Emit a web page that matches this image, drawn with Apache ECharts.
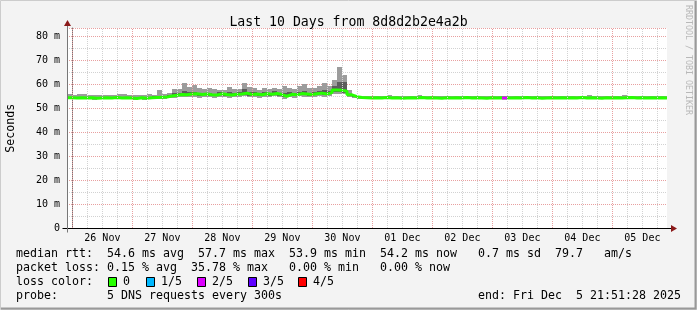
<!DOCTYPE html>
<html><head><meta charset="utf-8">
<script src="https://cdn.jsdelivr.net/npm/echarts@6/dist/echarts.min.js"></script>
<style>html,body{margin:0;padding:0;background:#f3f3f3}#c{width:697px;height:310px}</style>
</head><body><div id="c"></div>
<script>
// ---------- data ----------
const titleText = 'Last 10 Days from 8d8d2b2e4a2b';
const dayLabels = ['26 Nov','27 Nov','28 Nov','29 Nov','30 Nov','01 Dec','02 Dec','03 Dec','04 Dec','05 Dec'];
const yTicks = [0, 10, 20, 30, 40, 50, 60, 70, 80];      // ms
const yMax = 83.33;
const startHour = -2.1422;   // window start, hours relative to 26 Nov 00:00
const spanHours = 240;
const binHours = 2;
// median rtt (ms) per 2h bin
const med = [
54.3,54.2,54.3,54.2,54.3,54.1,54.2,54.3,54.2,54.4, 54.2,54.3,54.2,54.0,54.3,54.1,54.3,54.4,54.5,54.6,
55.0,55.3,55.6,55.5,55.8,55.9,55.6,55.8,55.5,55.4, 55.9,55.6,55.4,55.7,55.8,56.2,55.6,55.8,55.5,55.9,
55.7,56.0,55.6,54.9,55.7,55.5,56.0,55.8,55.6,55.9, 56.2,55.8,56.4,57.5,57.4,57.0,55.5,54.7,54.4,54.3,
54.2,54.3,54.2,54.4,54.2,54.3,54.1,54.2,54.3,54.2, 54.4,54.2,54.3,54.2,54.1,54.3,54.2,54.3,54.2,54.4,
54.2,54.3,54.2,54.1,54.3,54.2,54.3,54.2,54.2,54.3, 54.2,54.4,54.2,54.3,54.1,54.2,54.3,54.2,54.3,54.2,
54.3,54.2,54.4,54.2,54.3,54.2,54.1,54.3,54.2,54.3, 54.2,54.3,54.4,54.2,54.3,54.2,54.3,54.2,54.3,54.2];
// smoke: slowest ping (max)
const pingMax = [
56.0,55.6,55.9,55.8,55.5,55.4,55.6,55.5,55.3,55.6, 56.0,55.7,55.4,55.5,55.6,55.4,55.8,55.6,57.5,55.9,
56.2,57.8,58.0,60.3,58.9,59.6,58.2,58.0,58.3,57.9, 57.5,57.6,58.9,57.8,58.0,60.3,58.9,58.4,57.6,58.2,
57.9,58.5,57.8,59.2,58.5,58.0,59.0,59.9,58.2,58.4, 59.0,60.6,59.2,61.7,67.2,63.8,57.5,55.6,55.0,54.9,
55.0,54.9,55.1,54.9,55.4,55.0,54.8,54.9,55.0,55.1, 55.4,54.9,54.8,55.0,54.9,55.1,54.8,54.9,55.0,54.9,
54.8,55.0,54.9,55.0,54.9,55.1,54.9,55.2,54.9,54.8, 55.0,54.9,55.0,54.8,54.9,55.0,55.2,54.9,55.0,54.9,
54.8,55.0,54.9,55.0,55.3,54.9,55.0,54.8,54.9,55.0, 54.9,55.3,55.0,54.9,55.0,54.8,54.9,55.0,54.9,55.0];
// 4th ping
const ping4 = [
54.6,54.5,54.6,54.5,54.6,54.4,54.5,54.7,54.5,54.7, 54.6,54.6,54.5,54.4,54.6,54.4,54.6,54.8,55.2,55.0,
55.6,56.2,56.3,57.0,56.6,56.8,56.2,56.4,56.3,56.0, 56.5,56.2,56.8,56.3,56.7,57.8,56.5,56.6,56.1,56.7,
56.4,56.9,56.2,56.3,56.6,56.1,56.8,57.2,56.3,56.6, 57.0,57.4,57.2,59.0,61.0,60.8,56.0,55.0,54.7,54.6,
54.5,54.6,54.5,54.7,54.6,54.6,54.4,54.5,54.6,54.5, 54.7,54.5,54.6,54.5,54.4,54.6,54.5,54.6,54.5,54.7,
54.5,54.6,54.5,54.4,54.6,54.5,54.6,54.6,54.5,54.6, 54.5,54.7,54.5,54.6,54.4,54.5,54.6,54.5,54.6,54.5,
54.6,54.5,54.7,54.5,54.6,54.5,54.4,54.6,54.5,54.6, 54.5,54.6,54.7,54.5,54.6,54.5,54.6,54.5,54.6,54.5];
// 2nd ping
const ping2 = [
54.0,53.9,54.0,53.9,54.0,53.8,53.9,54.0,53.9,54.1, 53.9,54.0,53.9,53.7,54.0,53.8,54.0,54.1,54.2,54.3,
54.6,54.9,55.1,55.0,55.3,55.4,55.1,55.3,55.0,54.9, 55.4,55.1,54.9,55.2,55.3,55.6,55.1,55.3,55.0,55.4,
55.2,55.5,55.1,54.5,55.2,55.0,55.5,55.3,55.1,55.4, 55.7,55.3,55.9,56.8,56.8,56.4,55.1,54.4,54.1,54.0,
53.9,54.0,53.9,54.1,53.9,54.0,53.8,53.9,54.0,53.9, 54.1,53.9,54.0,53.9,53.8,54.0,53.9,54.0,53.9,54.1,
53.9,54.0,53.9,53.8,54.0,53.9,54.0,53.9,53.9,54.0, 53.9,54.1,53.9,54.0,53.8,53.9,54.0,53.9,54.0,53.9,
54.0,53.9,54.1,53.9,54.0,53.9,53.8,54.0,53.9,54.0, 53.9,54.0,54.1,53.9,54.0,53.9,54.0,53.9,54.0,53.9];
// fastest ping (min)
const pingMin = [
53.7,53.6,53.7,53.6,53.7,53.5,53.6,53.7,53.6,53.8, 53.6,53.7,53.6,53.4,53.7,53.5,53.7,53.8,53.8,53.9,
54.0,54.3,54.5,54.4,54.6,54.7,54.3,54.6,54.4,54.2, 54.6,54.4,54.2,54.5,54.6,54.8,54.4,54.6,54.2,54.7,
54.5,54.8,54.4,53.9,54.5,54.3,54.8,54.6,54.4,54.7, 55.0,54.6,55.2,56.0,56.0,55.7,54.6,54.0,53.8,53.7,
53.7,53.8,53.7,53.9,53.7,53.8,53.6,53.7,53.8,53.7, 53.9,53.7,53.8,53.7,53.6,53.8,53.7,53.8,53.7,53.9,
53.7,53.8,53.7,53.6,53.8,53.7,53.8,53.6,53.7,53.8, 53.7,53.9,53.7,53.8,53.6,53.7,53.8,53.7,53.8,53.7,
53.8,53.7,53.9,53.7,53.8,53.7,53.6,53.8,53.7,53.8, 53.7,53.8,53.9,53.7,53.8,53.7,53.8,53.7,53.8,53.7];
// packet loss events (bin index, lost pings out of 5)
const lossBins = [87];
const lossLevels = [2];
const lossNames = ['0', '1/5', '2/5', '3/5', '4/5'];
const lossColors = ['#26ff00', '#00b8ff', '#dd00ff', '#5e00ff', '#ff0000'];
const statLines = [
  'median rtt:  54.6 ms avg  57.7 ms max  53.9 ms min  54.2 ms now   0.7 ms sd  79.7   am/s',
  'packet loss: 0.15 % avg  35.78 % max   0.00 % min   0.00 % now',
  'loss color:',
  'probe:       5 DNS requests every 300s'
];
const endText = 'end: Fri Dec  5 21:51:28 2025';
const watermark = 'RRDTOOL / TOBI OETIKER';

// ---------- build ----------
const n = med.length;
const xs = [];
for (let i = 0; i <= n; i++) xs.push(startHour + i * binHours);
const MONO = 'DejaVu Sans Mono';

const minorGrid = [], majorGrid = [];
for (let h = 0; h < startHour + spanHours; h += 6) {
  if (h % 24 === 0) majorGrid.push({xAxis: h, lineStyle: {color: '#e8a0a0'}});
  else minorGrid.push({xAxis: h, lineStyle: {color: '#d2d2d2'}});
}
const noonValues = dayLabels.map((d, i) => 12 + 24 * i);

// bands: [x0, x1, low, high]
const outerBand = med.map((m, i) => [xs[i], xs[i + 1], pingMin[i], pingMax[i]]);
const innerBand = med.map((m, i) => [xs[i], xs[i + 1], ping2[i], ping4[i]]);
function bandRenderer(color) {
  return function (params, api) {
    const a = api.coord([api.value(0), api.value(3)]);
    const b = api.coord([api.value(1), api.value(2)]);
    const x0 = Math.round(a[0]), x1 = Math.round(b[0]);
    const y0 = Math.round(a[1]), y1 = Math.round(b[1]);
    return {type: 'rect', shape: {x: x0, y: y0, width: x1 - x0, height: Math.max(1, y1 - y0)},
            style: {fill: color}};
  };
}
const medPts = xs.map((x, i) => [x, med[Math.min(i, n - 1)]]);

const lossSeries = lossLevels.map((lvl, k) => ({
  type: 'line', step: 'end', symbol: 'none', silent: true, z: 4, animation: false,
  lineStyle: {width: 3, color: lossColors[lvl]},
  data: [[xs[lossBins[k]], med[lossBins[k]]], [xs[lossBins[k] + 1], med[lossBins[k]]]]
}));

const chart = echarts.init(document.getElementById('c'), null, {renderer: 'canvas'});
chart.setOption({
  animation: false,
  backgroundColor: '#f3f3f3',
  title: {
    text: titleText, left: 'center', top: 11,
    textStyle: {fontFamily: MONO, fontSize: 13.2, fontWeight: 'normal', color: '#000'}
  },
  grid: {left: 67, right: 30, top: 28, bottom: 82, show: true, backgroundColor: '#ffffff', borderWidth: 0,
         outerBoundsMode: 'none'},
  xAxis: {
    type: 'value', min: startHour, max: startHour + spanHours,
    axisLine: {show: true, onZero: false, lineStyle: {color: '#000', width: 1}},
    axisTick: {show: false},
    splitLine: {show: false},
    axisLabel: {
      customValues: noonValues, margin: 5,
      fontFamily: MONO, fontSize: 10, color: '#000',
      formatter: v => dayLabels[Math.round((v - 12) / 24)] || ''
    }
  },
  yAxis: {
    type: 'value', min: 0, max: yMax, interval: 10,
    axisLine: {show: true, lineStyle: {color: '#777', width: 1}},
    axisTick: {show: false},
    axisLabel: {
      margin: 7, fontFamily: MONO, fontSize: 10, color: '#000', showMaxLabel: false,
      formatter: v => (yTicks.indexOf(v) < 0 ? '' : (v === 0 ? '0' : v + ' m'))
    },
    splitLine: {show: true, lineStyle: {color: '#e8a0a0', type: [1, 1], width: 1}},
    minorTick: {show: false, splitNumber: 2},
    minorSplitLine: {show: true, lineStyle: {color: '#d2d2d2', type: [1, 1], width: 1}}
  },
  series: [
    {type: 'line', data: [[startHour, null]], symbol: 'none', silent: true, z: 1,
     markLine: {silent: true, symbol: 'none', label: {show: false}, animation: false,
       lineStyle: {type: [1, 1], width: 1}, data: minorGrid.concat(majorGrid)}},
    {type: 'custom', renderItem: bandRenderer('#9c9c9c'), data: outerBand, z: 2, silent: true, clip: true},
    {type: 'custom', renderItem: bandRenderer('#5c5c5c'), data: innerBand, z: 2, silent: true, clip: true},
    {type: 'line', step: 'end', symbol: 'none', silent: true, z: 3, animation: false,
     lineStyle: {width: 3, color: lossColors[0]}, data: medPts}
  ].concat(lossSeries)
});

// axis extensions, arrows, legend texts
const p0 = chart.convertToPixel({gridIndex: 0}, [startHour, 0]);
const p1 = chart.convertToPixel({gridIndex: 0}, [startHour + spanHours, yMax]);
const ax = Math.round(p0[0]) + 0.5, ay = Math.round(p0[1]) + 0.5;
const ex = Math.round(p1[0]), ty = Math.round(p1[1]);
const g = [];
g.push({type: 'line', shape: {x1: ax - 5, y1: ay, x2: ex + 5, y2: ay}, style: {stroke: '#000', lineWidth: 1}, z: 10});
g.push({type: 'line', shape: {x1: ax, y1: ay + 4, x2: ax, y2: ty - 5}, style: {stroke: '#777', lineWidth: 1}, z: 10});
g.push({type: 'polygon', shape: {points: [[ex + 4, ay - 3.5], [ex + 10, ay], [ex + 4, ay + 3.5]]}, style: {fill: '#8b1a1a'}, z: 11});
g.push({type: 'polygon', shape: {points: [[ax - 3.5, ty - 2], [ax, ty - 8], [ax + 3.5, ty - 2]]}, style: {fill: '#8b1a1a'}, z: 11});
// y axis title
g.push({type: 'text', x: 10.5, y: (ay + ty) / 2, rotation: Math.PI / 2,
  style: {text: 'Seconds', font: '11.63px "' + MONO + '"', fill: '#000', align: 'center', verticalAlign: 'middle'}, z: 12});
// frame
g.push({type: 'rect', shape: {x: 0.5, y: 0.5, width: 696, height: 309}, style: {fill: 'none', stroke: '#cccccc', lineWidth: 1}, z: 12});
g.push({type: 'polyline', shape: {points: [[1, 308.5], [695.5, 308.5], [695.5, 1]]}, style: {stroke: '#999999', lineWidth: 2, fill: 'none'}, z: 12});
// watermark
g.push({type: 'text', x: 688.5, y: 60, rotation: -Math.PI / 2,
  style: {text: watermark, font: '8.3px "' + MONO + '"', fill: '#b8b8b8', align: 'center', verticalAlign: 'middle'}, z: 12});
// statistics lines
const lineY = [254, 268, 282, 296];
statLines.forEach((t, i) => g.push({type: 'text', x: 16, y: lineY[i],
  style: {text: t, font: '11.63px "' + MONO + '"', fill: '#000', align: 'left', verticalAlign: 'middle'}, z: 12}));
g.push({type: 'text', x: 681, y: lineY[3],
  style: {text: endText, font: '11.63px "' + MONO + '"', fill: '#000', align: 'right', verticalAlign: 'middle'}, z: 12});
// loss colour legend
const legX = [108, 146, 197, 248, 298];
lossNames.forEach((nm, i) => {
  g.push({type: 'rect', shape: {x: legX[i] + 0.5, y: 277.5, width: 8, height: 9}, style: {fill: lossColors[i], stroke: '#000', lineWidth: 1}, z: 12});
  g.push({type: 'text', x: legX[i] + 15, y: lineY[2],
    style: {text: nm, font: '11.63px "' + MONO + '"', fill: '#000', align: 'left', verticalAlign: 'middle'}, z: 12});
});
chart.setOption({graphic: g});
</script></body></html>
